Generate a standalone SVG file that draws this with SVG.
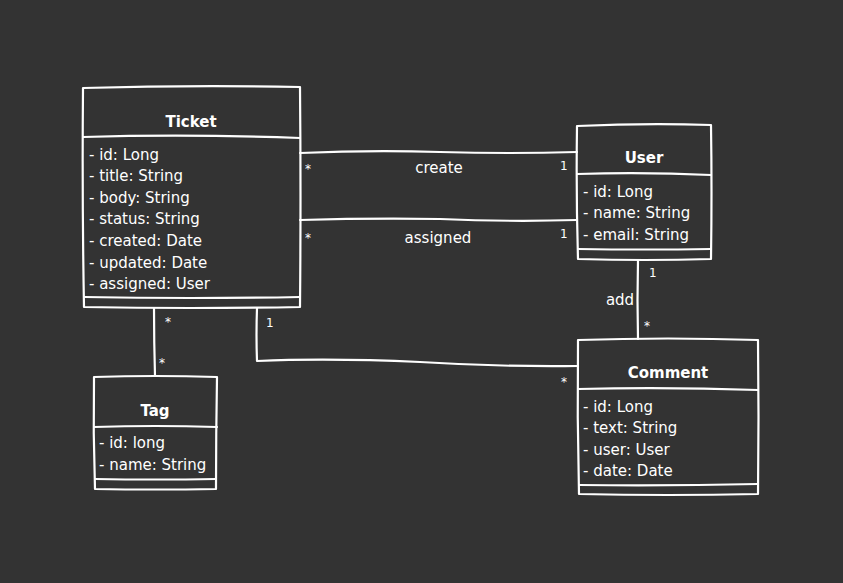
<svg xmlns="http://www.w3.org/2000/svg" width="843" height="583" viewBox="0 0 843 583">
<style>
.bg{fill:#333333}
.ln{fill:none;stroke:#ffffff;stroke-width:2.2;stroke-linejoin:round;stroke-linecap:round}
.t{font-family:"DejaVu Sans",Verdana,sans-serif;font-size:15px;fill:#ffffff}
.h{font-family:"DejaVu Sans",Verdana,sans-serif;font-size:15px;font-weight:bold;fill:#ffffff;text-anchor:middle}
.c{font-family:"DejaVu Sans",Verdana,sans-serif;font-size:15px;fill:#ffffff;text-anchor:middle}
.m{font-family:"DejaVu Sans",Verdana,sans-serif;font-size:12px;fill:#ffffff}
</style>
<rect class="bg" x="0" y="0" width="843" height="583"/>
<g id="connectors">
  <g id="conn-create">
    <path class="ln" d="M300,153 Q370,150 440,152 Q510,154 577,152"/>
    <text class="c" x="439" y="173">create</text>
    <text class="m" x="305" y="173">*</text>
    <text class="m" x="560" y="170">1</text>
  </g>
  <g id="conn-assigned">
    <path class="ln" d="M300,220 Q370,218 440,219 Q510,222 577,220"/>
    <text class="c" x="438" y="243">assigned</text>
    <text class="m" x="305" y="242">*</text>
    <text class="m" x="560" y="238">1</text>
  </g>
  <g id="conn-add">
    <path class="ln" d="M638,260 Q637,300 638,339"/>
    <text class="c" x="620" y="305">add</text>
    <text class="m" x="649" y="277">1</text>
    <text class="m" x="644" y="330">*</text>
  </g>
  <g id="conn-comment">
    <path class="ln" d="M257,308 Q256,335 257,361 Q330,358 420,362 Q500,367 578,366"/>
    <text class="m" x="266" y="327">1</text>
    <text class="m" x="561" y="386">*</text>
  </g>
  <g id="conn-tag">
    <path class="ln" d="M154,308 Q154,342 155,376"/>
    <text class="m" x="165" y="326">*</text>
    <text class="m" x="159" y="367">*</text>
  </g>
</g>
<g id="node-ticket">
  <path class="ln" d="M83,88 Q190,85 300,87 Q301,197 300,307 Q190,309 84,307 Q82,198 83,88 Z"/>
  <path class="ln" d="M83,137 Q190,134 300,138"/>
  <path class="ln" d="M84,297 Q190,299 300,297"/>
  <text class="h" x="191" y="127">Ticket</text>
  <text class="t" x="89" y="160">- id: Long</text>
  <text class="t" x="89" y="181">- title: String</text>
  <text class="t" x="89" y="203">- body: String</text>
  <text class="t" x="89" y="224">- status: String</text>
  <text class="t" x="89" y="246">- created: Date</text>
  <text class="t" x="89" y="268">- updated: Date</text>
  <text class="t" x="89" y="289">- assigned: User</text>
</g>
<g id="node-user">
  <path class="ln" d="M577,126 Q645,123 711,125 Q712,192 711,259 Q645,261 578,259 Q576,192 577,126 Z"/>
  <path class="ln" d="M577,174 Q645,172 711,175"/>
  <path class="ln" d="M578,249 Q645,250 711,249"/>
  <text class="h" x="644" y="163">User</text>
  <text class="t" x="583" y="197">- id: Long</text>
  <text class="t" x="583" y="218">- name: String</text>
  <text class="t" x="583" y="240">- email: String</text>
</g>
<g id="node-comment">
  <path class="ln" d="M578,340 Q668,337 758,340 Q759,417 758,494 Q668,496 579,494 Q577,417 578,340 Z"/>
  <path class="ln" d="M578,389 Q668,387 758,390"/>
  <path class="ln" d="M579,485 Q668,486 758,484"/>
  <text class="h" x="668" y="378">Comment</text>
  <text class="t" x="583" y="412">- id: Long</text>
  <text class="t" x="583" y="433">- text: String</text>
  <text class="t" x="583" y="455">- user: User</text>
  <text class="t" x="583" y="476">- date: Date</text>
</g>
<g id="node-tag">
  <path class="ln" d="M94,377 Q155,375 217,377 Q216,433 216,489 Q155,490 95,489 Q93,433 94,377 Z"/>
  <path class="ln" d="M94,427 Q155,425 217,427"/>
  <path class="ln" d="M95,479 Q155,480 216,479"/>
  <text class="h" x="155" y="416">Tag</text>
  <text class="t" x="99" y="448">- id: long</text>
  <text class="t" x="99" y="470">- name: String</text>
</g>
</svg>
